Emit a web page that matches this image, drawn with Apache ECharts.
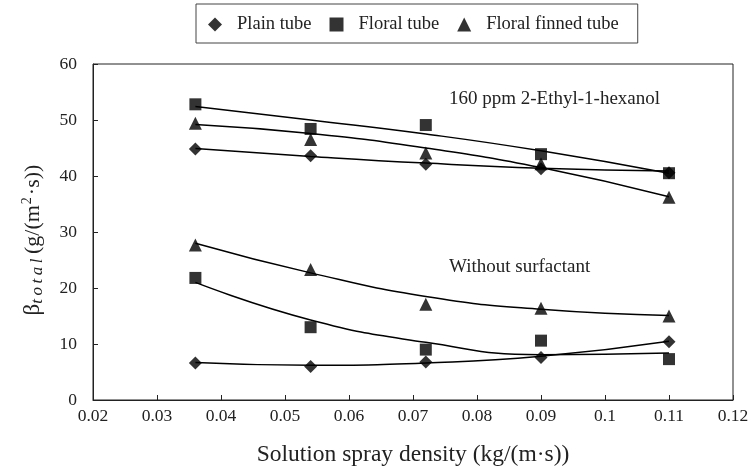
<!DOCTYPE html>
<html>
  <head>
    <meta charset="utf-8" />
    <title>Spray density</title>
    <script src="https://cdn.jsdelivr.net/npm/echarts@6/dist/echarts.min.js"></script>
  </head>
  <body style="margin:0">
    <div id="chartContainer" style="width: 752px;height:470px;"></div>
    <script>
        var chartContainer = document.getElementById('chartContainer');
        var myChart = echarts.init(chartContainer);

        // spray density (kg/(m·s))
        var density = [0.036, 0.054, 0.072, 0.09, 0.11];

        // measured points, 160 ppm 2-Ethyl-1-hexanol
        var plainSurf = [44.8, 43.6, 42.1, 41.3, 40.6];
        var floralSurf = [52.8, 48.4, 49.1, 43.9, 40.5];
        var finnedSurf = [49.4, 46.5, 44.1, 42.2, 36.2];
        // measured points, without surfactant
        var plainNone = [6.6, 6.0, 6.8, 7.6, 10.4];
        var floralNone = [21.8, 13.0, 9.0, 10.6, 7.3];
        var finnedNone = [27.7, 23.3, 17.1, 16.4, 15.0];

        // trend lines at the same densities
        var plainSurfFit = [44.9, 43.5, 42.3, 41.4, 40.9];
        var floralSurfFit = [52.4, 50.0, 47.5, 44.5, 40.5];
        var finnedSurfFit = [49.2, 47.6, 45.0, 41.5, 36.3];
        var plainNoneFit = [6.7, 6.2, 6.6, 7.8, 10.5];
        var floralNoneFit = [21.0, 14.3, 10.3, 8.1, 8.4];
        var finnedNoneFit = [28.0, 22.7, 18.5, 16.2, 15.1];

        var xTicks = ['0.02', '0.03', '0.04', '0.05', '0.06', '0.07', '0.08', '0.09', '0.1', '0.11', '0.12'];

        function pairs(ys) {
          return density.map((x, i) => [x, ys[i]]);
        }
        function pts(name, symbol, size, ys) {
          return {
            name: name, type: 'scatter', symbol: symbol, symbolSize: size,
            itemStyle: { color: '#000' }, data: pairs(ys), z: 3
          };
        }
        function fit(ys) {
          return {
            type: 'line', smooth: true, showSymbol: false, silent: true,
            lineStyle: { color: '#000', width: 1.5 }, data: pairs(ys), z: 2
          };
        }

        var font = 'Liberation Serif';
        // subscript "total" is a little spaced out in the original
        var sub = 'total'.split('').map(c => '{s|' + c + '}').join('');
        var option = {
          animation: false,
          textStyle: { fontFamily: font },
          legend: {
            data: [
              { name: 'Plain tube', icon: 'diamond' },
              { name: 'Floral tube', icon: 'rect' },
              { name: 'Floral finned tube', icon: 'triangle' }
            ],
            top: 4, left: 196,
            itemWidth: 14, itemHeight: 14, itemGap: 18,
            padding: [11, 19, 9, 12],
            borderColor: '#444', borderWidth: 1,
            textStyle: { fontFamily: font, fontSize: 18.5, color: '#222', padding: [0, 0, 0, 10] }
          },
          grid: { left: 93, right: 19, top: 64, bottom: 70, outerBoundsMode: 'none',
                  show: true, borderColor: '#222', borderWidth: 1 },
          xAxis: {
            type: 'value', min: 0.02, max: 0.12, interval: 0.01,
            name: 'Solution spray density (kg/(m·s))', nameLocation: 'middle', nameGap: 43,
            nameTextStyle: { fontFamily: font, fontSize: 23.5, color: '#222' },
            axisLine: { lineStyle: { color: '#222' } },
            axisTick: { inside: true, length: 5, lineStyle: { color: '#222' } },
            axisLabel: { fontSize: 17.5, color: '#222', margin: 7,
              formatter: v => xTicks[Math.round((v - 0.02) * 100)] },
            splitLine: { show: false }
          },
          yAxis: {
            type: 'value', min: 0, max: 60, interval: 10,
            name: '{b|β}' + sub + '{a|(g/(m}{p|2}{e|·s))}', nameLocation: 'middle', nameGap: 47,
            nameTextStyle: {
              rich: {
                a: { fontFamily: font, fontSize: 22, color: '#222', padding: [0, 1, 0, 1] },
                e: { fontFamily: font, fontSize: 22, color: '#222', padding: [0, 16, 0, 1] },
                b: { fontFamily: font, fontSize: 23, color: '#222' },
                s: { fontFamily: font, fontSize: 17, fontStyle: 'italic', color: '#222', verticalAlign: 'bottom', padding: [9, 3.5, 0, 0] },
                p: { fontFamily: font, fontSize: 14, color: '#222', verticalAlign: 'top', padding: [0, 1, 9, 0] }
              }
            },
            axisLine: { show: true, lineStyle: { color: '#222' } },
            axisTick: { show: true, inside: true, length: 5, lineStyle: { color: '#222' } },
            axisLabel: { fontSize: 17.5, color: '#222', margin: 16 },
            splitLine: { show: false }
          },
          graphic: [
            { type: 'text', left: 449, top: 90, style: { text: '160 ppm 2-Ethyl-1-hexanol', font: '19px "Liberation Serif"', fill: '#222' } },
            { type: 'text', left: 449, top: 258, style: { text: 'Without surfactant', font: '19px "Liberation Serif"', fill: '#222' } }
          ],
          series: [
            fit(plainSurfFit), fit(floralSurfFit), fit(finnedSurfFit),
            fit(plainNoneFit), fit(floralNoneFit), fit(finnedNoneFit),
            pts('Plain tube', 'diamond', 13, plainSurf),
            pts('Floral tube', 'rect', 12, floralSurf),
            pts('Floral finned tube', 'triangle', 13, finnedSurf),
            pts('Plain tube', 'diamond', 13, plainNone),
            pts('Floral tube', 'rect', 12, floralNone),
            pts('Floral finned tube', 'triangle', 13, finnedNone)
          ]
        };

        myChart.setOption(option);
    </script>
  </body>
</html>
